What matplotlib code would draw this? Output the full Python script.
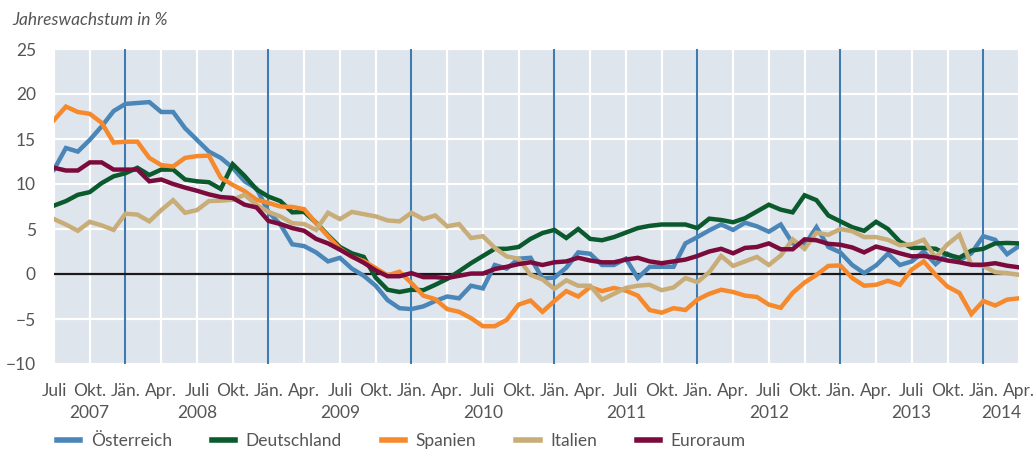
import matplotlib
matplotlib.use("Agg")
import matplotlib.pyplot as plt
import matplotlib.transforms as mtransforms
import numpy as np

# Monthly data, Juli 2007 .. April 2014 (82 months)
oesterreich = [11.6, 14.0, 13.6, 14.9, 16.4, 18.1, 18.9, 19.0, 19.1, 18.0,
               18.0, 16.2, 14.9, 13.6, 12.9, 11.8, 10.3, 9.5, 6.9, 5.5,
               3.3, 3.1, 2.4, 1.4, 1.8, 0.6, -0.2, -1.3, -2.9, -3.8,
               -3.9, -3.6, -3.0, -2.5, -2.7, -1.3, -1.6, 1.0, 0.6, 1.7,
               1.8, -0.5, -0.4, 0.7, 2.4, 2.25, 1.0, 1.0, 1.7, -0.45,
               0.8, 0.8, 0.8, 3.4, 4.1, 4.85, 5.5, 4.9, 5.7, 5.3,
               4.7, 5.5, 3.4, 3.2, 5.2, 3.0, 2.4, 1.0, 0.1, 0.95,
               2.25, 1.0, 1.4, 2.5, 1.1, 2.25, 1.5, 2.3, 4.2, 3.8,
               2.2, 3.1]
deutschland = [7.6, 8.1, 8.8, 9.1, 10.1, 10.85, 11.2, 11.8, 11.0, 11.6,
               11.6, 10.5, 10.3, 10.2, 9.45, 12.2, 10.9, 9.4, 8.6, 8.1,
               6.85, 6.9, 5.7, 4.3, 3.0, 2.3, 1.9, -0.4, -1.75, -2.0,
               -1.75, -1.8, -1.2, -0.55, 0.3, 1.2, 2.0, 2.8, 2.8, 3.0,
               3.9, 4.55, 4.9, 4.0, 5.0, 3.9, 3.75, 4.1, 4.6, 5.1,
               5.35, 5.5, 5.5, 5.5, 5.1, 6.15, 6.0, 5.75, 6.2, 6.95,
               7.7, 7.15, 6.85, 8.75, 8.2, 6.5, 5.85, 5.2, 4.8, 5.8,
               5.0, 3.6, 2.9, 2.9, 2.8, 2.15, 1.8, 2.6, 2.8, 3.4,
               3.45, 3.4]
spanien = [17.1, 18.6, 18.0, 17.8, 16.8, 14.6, 14.7, 14.7, 12.9, 12.1,
           11.95, 12.9, 13.1, 13.15, 10.7, 9.9, 9.2, 8.25, 7.9, 7.5,
           7.45, 7.2, 5.65, 4.2, 2.8, 1.9, 1.45, 0.65, -0.15, 0.25,
           -1.0, -2.4, -2.8, -3.9, -4.2, -4.9, -5.8, -5.8, -5.1, -3.4,
           -2.95, -4.2, -3.0, -1.9, -2.5, -1.45, -1.9, -1.55, -1.85, -2.4,
           -4.0, -4.3, -3.8, -4.0, -2.85, -2.2, -1.75, -2.0, -2.4, -2.55,
           -3.4, -3.75, -2.1, -0.95, -0.1, 0.9, 0.95, -0.45, -1.3, -1.2,
           -0.75, -1.2, 0.5, 1.4, -0.1, -1.4, -2.1, -4.45, -3.0, -3.5,
           -2.85, -2.7]
italien = [6.1, 5.5, 4.8, 5.8, 5.4, 4.9, 6.7, 6.6, 5.85, 7.1,
           8.2, 6.8, 7.1, 8.1, 8.15, 8.25, 8.8, 7.7, 6.9, 6.4,
           5.65, 5.55, 4.9, 6.8, 6.1, 6.9, 6.65, 6.4, 5.95, 5.85,
           6.8, 6.1, 6.5, 5.3, 5.55, 4.0, 4.2, 2.9, 1.95, 1.7,
           -0.1, -0.6, -1.65, -0.7, -1.3, -1.3, -2.85, -2.2, -1.55, -1.3,
           -1.2, -1.8, -1.5, -0.45, -0.9, 0.2, 2.0, 0.9, 1.4, 1.9,
           1.0, 2.05, 3.85, 2.8, 4.6, 4.35, 5.0, 4.75, 4.1, 4.1,
           3.8, 3.2, 3.3, 3.8, 1.8, 3.3, 4.35, 1.0, 0.9, 0.2,
           0.1, -0.1]
euroraum = [11.8, 11.5, 11.5, 12.4, 12.4, 11.6, 11.6, 11.6, 10.3, 10.5,
            10.0, 9.6, 9.25, 8.85, 8.55, 8.45, 7.7, 7.4, 5.9, 5.55,
            5.1, 4.8, 3.9, 3.4, 2.7, 1.95, 1.25, 0.4, -0.25, -0.25,
            0.1, -0.35, -0.35, -0.45, -0.2, 0.05, 0.05, 0.55, 0.8, 1.1,
            1.3, 1.0, 1.3, 1.4, 1.8, 1.5, 1.3, 1.3, 1.6, 1.8,
            1.4, 1.2, 1.4, 1.6, 2.0, 2.5, 2.8, 2.3, 2.9, 3.0,
            3.4, 2.75, 2.75, 3.85, 3.75, 3.35, 3.25, 2.95, 2.4, 3.05,
            2.7, 2.3, 1.96, 2.0, 1.8, 1.5, 1.3, 1.03, 1.03, 1.2,
            0.92, 0.74]

series_names = ["Österreich", "Deutschland", "Spanien", "Italien", "Euroraum"]
series_colors = ["#4a86b8", "#0b5a2e", "#f5892b", "#c8ad79", "#7b0b3c"]
month_labels = ["Juli", "Okt.", "Jän.", "Apr."] * 7
year_labels = ["2007", "2008", "2009", "2010", "2011", "2012", "2013", "2014"]
year_positions = [3, 12, 24, 36, 48, 60, 72, 79.5]
january_positions = [6, 18, 30, 42, 54, 66, 78]

FONT = ["Lato", "DejaVu Sans"]
plt.rcParams["font.family"] = FONT
TXT = "#555555"
FS = 12.5

fig = plt.figure(figsize=(10.36, 4.53), dpi=100)
ax = fig.add_axes([54 / 1036, 89 / 453, 965 / 1036, 315 / 453])
ax.set_facecolor("#dfe5ed")
for s in ax.spines.values():
    s.set_visible(False)

n = len(oesterreich)
x = np.arange(n)

ax.set_xlim(0, n - 1)
ax.set_ylim(-10, 25)
ax.set_yticks(np.arange(-10, 26, 5))
ax.set_xticks(np.arange(0, n, 3))
ax.set_xticklabels(month_labels[: len(np.arange(0, n, 3))])
ax.grid(True, color="white", linewidth=1.6, zorder=0)
ax.set_axisbelow(True)
for j in january_positions:
    ax.axvline(j, color="#3d7bb0", linewidth=1.5, zorder=1)
ax.axhline(0, color="#1a1a1a", linewidth=1.6, zorder=1.5)

ax.tick_params(axis="both", length=0, labelsize=FS, labelcolor=TXT)
ax.tick_params(axis="x", pad=14)
ax.tick_params(axis="y", pad=13)

data = [oesterreich, deutschland, spanien, italien, euroraum]
order = [3, 2, 0, 1, 4]
lines = {}
for i in order:
    (ln,) = ax.plot(x, data[i], color=series_colors[i], linewidth=3.2,
                    solid_joinstyle="miter", zorder=2 + i * 0.1,
                    label=series_names[i])
    lines[i] = ln

trans = mtransforms.blended_transform_factory(ax.transData, ax.transAxes)
for yl, xp in zip(year_labels, year_positions):
    ax.text(xp, -0.157, yl, transform=trans, ha="center", va="center",
            fontsize=FS, color=TXT)

fig.text(12 / 1036, 1 - 20 / 453, "Jahreswachstum in %", ha="left",
         va="center", fontsize=FS, color=TXT, style="italic")

handles = [lines[i] for i in range(5)]
leg = fig.legend(handles, series_names, loc="center left",
                 bbox_to_anchor=(50 / 1036, 1 - 441 / 453), ncol=5,
                 frameon=False, fontsize=FS, handlelength=1.35,
                 handletextpad=0.6, columnspacing=2.3, borderaxespad=0)
for t in leg.get_texts():
    t.set_color(TXT)
for h in leg.legend_handles:
    h.set_linewidth(4)

fig.savefig("out.png", dpi=100)
